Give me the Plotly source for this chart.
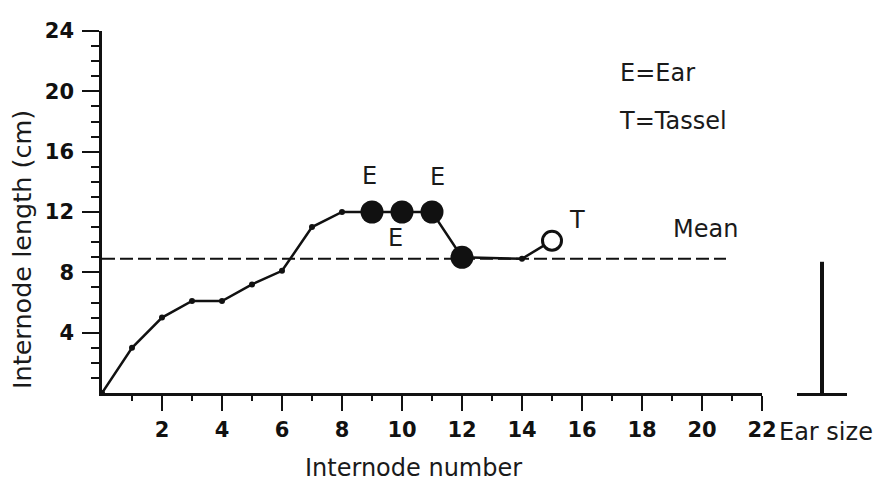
import plotly.graph_objects as go

# Internode lengths along the stalk
internode = [0, 1, 2, 3, 4, 5, 6, 7, 8, 9, 10, 11, 12, 14, 15]
length_cm = [0, 3.0, 5.0, 6.1, 6.1, 7.2, 8.1, 11.0, 12.0, 12.0, 12.0, 12.0, 9.0, 8.9, 10.1]

# Nodes bearing ears (filled) and the tassel (open)
ear_nodes = [9, 10, 11, 12]
tassel_node = 15

# Mean internode length and the span it is drawn over
mean_length = 8.9
mean_span = [0, 20.8]

# Ear size bar
ear_size = 8.7

# Axis ticks
x_ticks = [2, 4, 6, 8, 10, 12, 14, 16, 18, 20, 22]
x_minor = [1, 3, 5, 7, 9, 11, 13, 15, 17, 19, 21]
y_ticks = [4, 8, 12, 16, 20, 24]
y_minor = list(range(1, 24))

W, H = 873, 489
L, R, T, B = 102, 26, 31, 96
PW = W - L - R
PH = H - T - B
MAIN_W = 660          # pixel width of the 0..22 internode axis
EAR_LEFT = 797        # left edge of the ear-size base

INK = "#111111"
FONT = "DejaVu Sans"


def px_x(px):
    return (px - L) / PW


def px_y(py):
    return (H - B - py) / PH


ear_y = [length_cm[internode.index(n)] for n in ear_nodes]
tassel_y = length_cm[internode.index(tassel_node)]

fig = go.Figure()

# dashed mean line
fig.add_trace(go.Scatter(
    x=mean_span, y=[mean_length, mean_length], mode="lines",
    line=dict(color=INK, width=2, dash="13px,5px"),
    hoverinfo="skip", showlegend=False,
))

# internode length profile
fig.add_trace(go.Scatter(
    x=internode, y=length_cm, mode="lines+markers",
    line=dict(color=INK, width=2.5),
    marker=dict(color=INK, size=6),
    cliponaxis=False, showlegend=False,
))

# ear-bearing nodes
fig.add_trace(go.Scatter(
    x=ear_nodes, y=ear_y, mode="markers",
    marker=dict(color=INK, size=23),
    cliponaxis=False, showlegend=False,
))

# tassel node
fig.add_trace(go.Scatter(
    x=[tassel_node], y=[tassel_y], mode="markers",
    marker=dict(color="white", size=19, line=dict(color=INK, width=3)),
    cliponaxis=False, showlegend=False,
))

# ear size bar on its own small axis
fig.add_trace(go.Scatter(
    x=[0.5, 0.5], y=[0, ear_size], mode="lines",
    line=dict(color=INK, width=4),
    xaxis="x2", yaxis="y", showlegend=False, hoverinfo="skip",
))

text_font = dict(family=FONT, size=24, color="#1a1a1a")


def note(x, y, text, ref="x", xanchor="center", font=None, **kw):
    yref = "y" if ref == "x" else "paper"
    return dict(x=x, y=y, xref=ref, yref=yref, text=text, showarrow=False,
                xanchor=xanchor, yanchor="middle", font=font or text_font, **kw)


annotations = [
    note(8.93, 14.4, "E"),
    note(11.17, 14.3, "E"),
    note(9.77, 10.3, "E"),
    note(15.83, 11.5, "T"),
    note(20.13, 10.85, "Mean"),
    note(px_x(618), px_y(73), "E=Ear", ref="paper", xanchor="left"),
    note(px_x(617), px_y(121), "T=Tassel", ref="paper", xanchor="left"),
    note(px_x(413), px_y(468), "Internode number", ref="paper"),
    note(px_x(826), px_y(432), "Ear size", ref="paper"),
    note(px_x(22), px_y(250), "Internode length (cm)", ref="paper", textangle=-90,
         font=dict(family=FONT, size=25.5, color="#1a1a1a")),
]

tick_font = dict(family=FONT, size=21, color=INK, weight="bold")

fig.update_layout(
    width=W, height=H,
    margin=dict(l=L, r=R, t=T, b=B),
    paper_bgcolor="white", plot_bgcolor="white",
    showlegend=False,
    annotations=annotations,
    xaxis=dict(
        domain=[0, MAIN_W / PW], range=[0, 22],
        showgrid=False, zeroline=False,
        showline=True, linecolor=INK, linewidth=2.5,
        ticks="outside", tickmode="array", tickvals=x_ticks,
        ticklen=15, tickwidth=2, tickcolor=INK,
        ticklabelstandoff=1,
        tickfont=tick_font,
        minor=dict(tickmode="array", tickvals=x_minor, ticks="outside",
                   ticklen=5, tickwidth=2, tickcolor=INK, showgrid=False),
        anchor="y",
    ),
    xaxis2=dict(
        domain=[(EAR_LEFT - L) / PW, 1], range=[0, 1],
        showgrid=False, zeroline=False,
        showline=True, linecolor=INK, linewidth=3,
        ticks="", showticklabels=False, anchor="y",
    ),
    yaxis=dict(
        range=[0, 24],
        showgrid=False, zeroline=False,
        showline=True, linecolor=INK, linewidth=2.5,
        ticks="outside", tickmode="array", tickvals=y_ticks,
        ticklen=17, tickwidth=2, tickcolor=INK,
        ticklabelstandoff=4,
        tickfont=tick_font,
        minor=dict(tickmode="array", tickvals=y_minor, ticks="outside",
                   ticklen=8, tickwidth=2, tickcolor=INK, showgrid=False),
        anchor="x",
    ),
)

fig.write_html("out.html")
